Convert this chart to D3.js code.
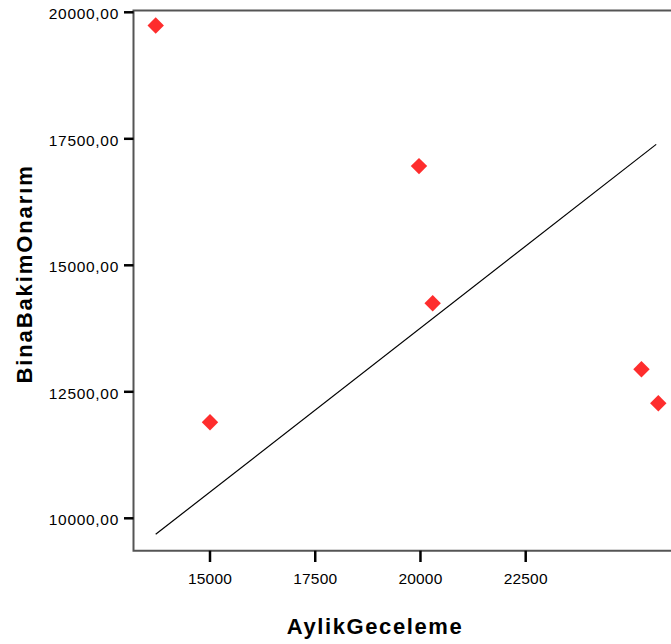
<!DOCTYPE html>
<html>
<head>
<meta charset="utf-8">
<script src="https://cdn.jsdelivr.net/npm/d3@7"></script>
<style>
body { margin: 0; background: #fff; }
svg { display: block; }
text { font-family: "Liberation Sans", Arial, sans-serif; fill: #000; }
</style>
</head>
<body>
<svg width="671" height="644"></svg>
<script>
// values
var gecelemeX = [13710, 15000, 19965, 20290, 25250, 25650]
var onarimY = [19740, 11900, 16960, 14250, 12945, 12275]
var fitX = [13710, 25600]
var fitY = [9684, 17390]
var xTicks = [15000, 17500, 20000, 22500]
var yTicks = [10000, 12500, 15000, 17500, 20000]

var svg = d3.select('svg')

// scales pinned on the tick positions
var x = d3.scaleLinear().domain([15000, 22500]).range([210, 525.7])
var y = d3.scaleLinear().domain([10000, 20000]).range([518.3, 12.3])
var frameL = 133.5, frameT = 10.5, frameB = 550.7, frameR = 690

// frame (no right side visible)
svg.append('path')
    .attr('d', 'M' + frameR + ',' + frameT + 'H' + frameL + 'V' + frameB + 'H' + frameR)
    .attr('fill', 'none')
    .attr('stroke', '#555')
    .attr('stroke-width', 2)

// y ticks
var yg = svg.append('g')
yTicks.forEach(function(t) {
    yg.append('line')
	.attr('x1', 124).attr('x2', frameL)
	.attr('y1', y(t)).attr('y2', y(t))
	.attr('stroke', '#000').attr('stroke-width', 2.5)
    yg.append('text')
	.attr('x', 119)
	.attr('y', y(t) + 7)
	.attr('text-anchor', 'end')
	.style('font-size', '15.5px')
	.style('letter-spacing', '0.7px')
	.text(d3.format('d')(t) + ',00')
})

// x ticks
var xg = svg.append('g')
xTicks.forEach(function(t) {
    xg.append('line')
	.attr('x1', x(t)).attr('x2', x(t))
	.attr('y1', frameB).attr('y2', 562)
	.attr('stroke', '#000').attr('stroke-width', 2.5)
    xg.append('text')
	.attr('x', x(t))
	.attr('y', 583.5)
	.attr('text-anchor', 'middle')
	.style('font-size', '15.5px')
	.style('letter-spacing', '0.2px')
	.text(t)
})

// axis titles
svg.append('text')
    .attr('x', 375)
    .attr('y', 634)
    .attr('text-anchor', 'middle')
    .style('font-size', '22px')
    .style('font-weight', 'bold')
    .style('letter-spacing', '1.6px')
    .text('AylikGeceleme')

svg.append('text')
    .attr('transform', 'translate(32,274) rotate(-90)')
    .attr('text-anchor', 'middle')
    .style('font-size', '22px')
    .style('font-weight', 'bold')
    .style('letter-spacing', '1.9px')
    .text('BinaBakimOnarım')

// fit line
var lineFunc = d3.line()
    .x(function(d) { return x(d[0]) })
    .y(function(d) { return y(d[1]) })
svg.append('path')
    .attr('d', lineFunc(d3.zip(fitX, fitY)))
    .attr('fill', 'none')
    .attr('stroke', '#000')
    .attr('stroke-width', 1.2)

// points
var diamond = d3.symbol().type(d3.symbolSquare).size(135)
svg.append('g').selectAll('path')
    .data(d3.zip(gecelemeX, onarimY))
    .enter().append('path')
    .attr('d', diamond)
    .attr('transform', function(d) { return 'translate(' + x(d[0]) + ',' + y(d[1]) + ') rotate(45)' })
    .attr('fill', '#fe2d2d')
</script>
</body>
</html>
